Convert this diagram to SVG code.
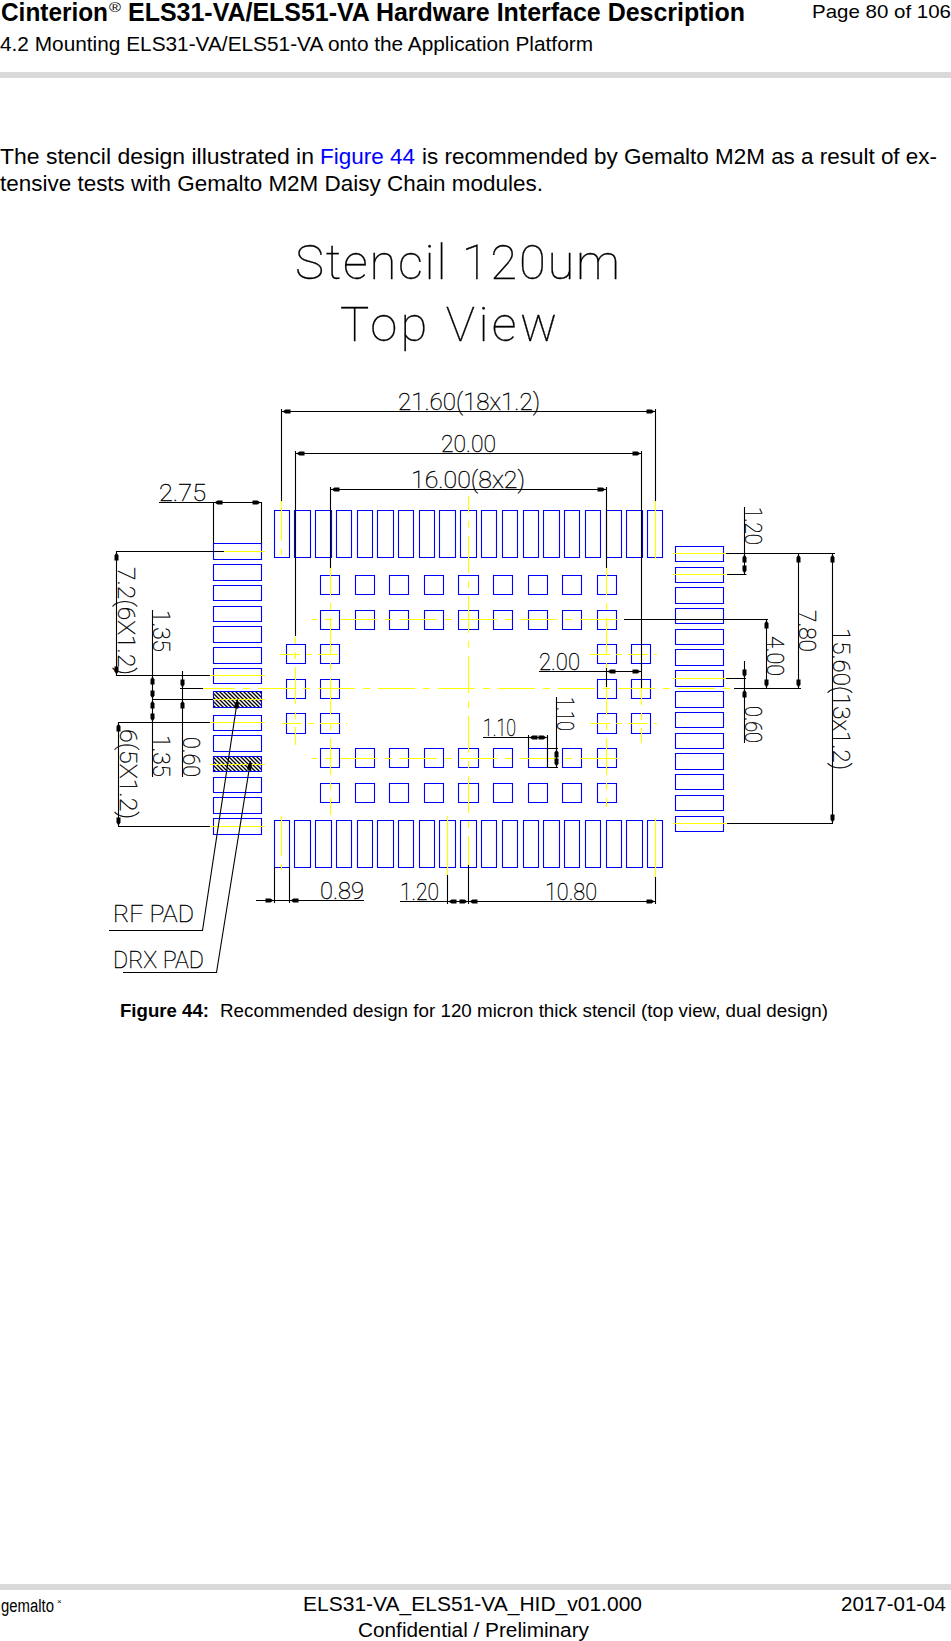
<svg xmlns="http://www.w3.org/2000/svg" width="951" height="1641" viewBox="0 0 951 1641">
<style>
text{font-family:"Liberation Sans",Arial,sans-serif;fill:#000}
.cad{font-family:"Roboto","Inter",sans-serif;font-weight:100;font-size:23.5px;stroke:#000;stroke-width:.35}
.big{font-family:"Roboto","Inter",sans-serif;font-weight:100;font-size:49px;stroke:#000;stroke-width:.3}
.pad{fill:none;stroke:#0000ff;stroke-width:1.1}
.dim{fill:none;stroke:#000;stroke-width:1.1}
.yl{fill:none;stroke:#ffff00;stroke-width:1.1}
.cl{stroke-dasharray:37 8 7 8}
.bar{fill:#d9d9d9}
</style>
<defs>
<pattern id="hatch" width="4" height="4" patternUnits="userSpaceOnUse"><rect width="4" height="4" fill="#fff"/><path d="M-1 -1L5 5M-1 3L1 5M3 -1L5 1" stroke="#000" stroke-width="1.3"/></pattern>
<path id="ah" d="M1 0L4 -2H9V2H4Z" fill="#000"/>
</defs>
<g id="page-header">
<text x="1" y="21" font-size="25.5" font-weight="700" textLength="107" lengthAdjust="spacingAndGlyphs">Cinterion</text>
<text x="109" y="12" font-size="13" textLength="12" lengthAdjust="spacingAndGlyphs">®</text>
<text x="128" y="21" font-size="25.5" font-weight="700" textLength="617" lengthAdjust="spacingAndGlyphs">ELS31-VA/ELS51-VA Hardware Interface Description</text>
<text x="0" y="51" font-size="20.5" textLength="593" lengthAdjust="spacingAndGlyphs">4.2 Mounting ELS31-VA/ELS51-VA onto the Application Platform</text>
<text x="812" y="18" font-size="19" textLength="139" lengthAdjust="spacingAndGlyphs">Page 80 of 106</text>
<rect class="bar" x="0" y="72" width="951" height="6"/>
</g>
<g id="body-text">
<text x="0" y="164" font-size="22.5" textLength="314" lengthAdjust="spacingAndGlyphs">The stencil design illustrated in</text>
<text x="320" y="164" font-size="22.5" fill="#0000ff" style="fill:#0000ff" textLength="95" lengthAdjust="spacingAndGlyphs">Figure 44</text>
<text x="422" y="164" font-size="22.5" textLength="515" lengthAdjust="spacingAndGlyphs">is recommended by Gemalto M2M as a result of ex-</text>
<text x="0" y="191" font-size="22.5" textLength="543" lengthAdjust="spacingAndGlyphs">tensive tests with Gemalto M2M Daisy Chain modules.</text>
</g>
<g id="title">
<text class="big" x="295" y="279" textLength="325">Stencil 120um</text>
<text class="big" x="340" y="341" textLength="217">Top View</text>
</g>
<g id="hatched"><rect x="213.5" y="691.5" width="48" height="16" fill="url(#hatch)"/><rect x="213.5" y="756.5" width="48" height="15" fill="url(#hatch)"/></g>
<g id="pads-top"><path class="pad" d="M274.5 510.5h15v47h-15zM294.5 510.5h16v47h-16zM315.5 510.5h16v47h-16zM336.5 510.5h15v47h-15zM357.5 510.5h15v47h-15zM377.5 510.5h16v47h-16zM398.5 510.5h15v47h-15zM419.5 510.5h15v47h-15zM439.5 510.5h16v47h-16zM460.5 510.5h16v47h-16zM481.5 510.5h15v47h-15zM502.5 510.5h15v47h-15zM523.5 510.5h15v47h-15zM543.5 510.5h16v47h-16zM564.5 510.5h15v47h-15zM585.5 510.5h15v47h-15zM606.5 510.5h15v47h-15zM626.5 510.5h16v47h-16zM647.5 510.5h15v47h-15z"/></g>
<g id="pads-bottom"><path class="pad" d="M274.5 820.5h15v47h-15zM294.5 820.5h16v47h-16zM315.5 820.5h16v47h-16zM336.5 820.5h15v47h-15zM357.5 820.5h15v47h-15zM377.5 820.5h16v47h-16zM398.5 820.5h15v47h-15zM419.5 820.5h15v47h-15zM439.5 820.5h16v47h-16zM460.5 820.5h16v47h-16zM481.5 820.5h15v47h-15zM502.5 820.5h15v47h-15zM523.5 820.5h15v47h-15zM543.5 820.5h16v47h-16zM564.5 820.5h15v47h-15zM585.5 820.5h15v47h-15zM606.5 820.5h15v47h-15zM626.5 820.5h16v47h-16zM647.5 820.5h15v47h-15z"/></g>
<g id="pads-left"><path class="pad" d="M213.5 543.5h48v16h-48zM213.5 564.5h48v16h-48zM213.5 585.5h48v15h-48zM213.5 606.5h48v15h-48zM213.5 626.5h48v16h-48zM213.5 647.5h48v16h-48zM213.5 668.5h48v15h-48zM213.5 691.5h48v16h-48zM213.5 715.5h48v15h-48zM213.5 735.5h48v16h-48zM213.5 756.5h48v15h-48zM213.5 777.5h48v15h-48zM213.5 797.5h48v16h-48zM213.5 818.5h48v16h-48z"/></g>
<g id="pads-right"><path class="pad" d="M675.5 546.5h48v15h-48zM675.5 567.5h48v15h-48zM675.5 587.5h48v16h-48zM675.5 608.5h48v15h-48zM675.5 629.5h48v15h-48zM675.5 649.5h48v16h-48zM675.5 670.5h48v16h-48zM675.5 691.5h48v16h-48zM675.5 712.5h48v15h-48zM675.5 733.5h48v15h-48zM675.5 753.5h48v16h-48zM675.5 774.5h48v15h-48zM675.5 795.5h48v15h-48zM675.5 816.5h48v15h-48z"/></g>
<g id="pads-centre"><path class="pad" d="M320.5 575.5h19v19h-19zM355.5 575.5h19v19h-19zM389.5 575.5h19v19h-19zM424.5 575.5h19v19h-19zM458.5 575.5h20v19h-20zM493.5 575.5h19v19h-19zM528.5 575.5h19v19h-19zM562.5 575.5h19v19h-19zM597.5 575.5h19v19h-19zM320.5 610.5h19v19h-19zM355.5 610.5h19v19h-19zM389.5 610.5h19v19h-19zM424.5 610.5h19v19h-19zM458.5 610.5h20v19h-20zM493.5 610.5h19v19h-19zM528.5 610.5h19v19h-19zM562.5 610.5h19v19h-19zM597.5 610.5h19v19h-19zM320.5 748.5h19v19h-19zM355.5 748.5h19v19h-19zM389.5 748.5h19v19h-19zM424.5 748.5h19v19h-19zM458.5 748.5h20v19h-20zM493.5 748.5h19v19h-19zM528.5 748.5h19v19h-19zM562.5 748.5h19v19h-19zM597.5 748.5h19v19h-19zM320.5 783.5h19v19h-19zM355.5 783.5h19v19h-19zM389.5 783.5h19v19h-19zM424.5 783.5h19v19h-19zM458.5 783.5h20v19h-20zM493.5 783.5h19v19h-19zM528.5 783.5h19v19h-19zM562.5 783.5h19v19h-19zM597.5 783.5h19v19h-19zM286.5 644.5h19v19h-19zM320.5 644.5h19v19h-19zM597.5 644.5h19v19h-19zM631.5 644.5h19v19h-19zM286.5 679.5h19v19h-19zM320.5 679.5h19v19h-19zM597.5 679.5h19v19h-19zM631.5 679.5h19v19h-19zM286.5 713.5h19v20h-19zM320.5 713.5h19v20h-19zM597.5 713.5h19v20h-19zM631.5 713.5h19v20h-19z"/></g>
<g id="centre-lines">
<path class="yl cl" stroke-dashoffset="5" d="M203 688.5H734"/>
<path class="yl cl" stroke-dashoffset="32" d="M312 619.5H624M312 758.5H624"/>
<path class="yl cl" stroke-dashoffset="20" d="M468.5 496V865"/>
<path class="yl cl" stroke-dashoffset="10" d="M330.5 568V815M606.5 568V807"/>
<path class="yl cl" stroke-dashoffset="30" d="M295.5 637V745M641.5 638V743"/>
<path class="yl" stroke-dasharray="20 6 6 6" d="M280 654.5H344M590 654.5H657M282 723.5H347M590 723.5H657"/>
<path class="yl" stroke-dasharray="40 8 6 8" d="M281.5 501V562M281.5 816V877"/>
<path class="yl" d="M655.5 501V559M655.5 818V877M447.5 816V875"/>
<path class="yl" d="M224 551.5H265M210 675.5H265M213 699.5H265M210 722.5H265M210 764.5H265M210 826.5H265M673 553.5H726M673 574.5H726M673 678.5H726M673 823.5H727"/>
</g>
<g id="connectors">
<path class="dim" d="M281.5 409V501M655.5 409V501M281.5 411.5H655.5"/>
<path class="dim" d="M295.5 451V636M641.5 451V638M295.5 453.5H641.5"/>
<path class="dim" d="M330.5 487V568M606.5 487V568M330.5 489.5H606.5"/>
<path class="dim" d="M159 502.5H261.5M213.5 502V543M261.5 502V543"/>
<path class="dim" d="M116.5 551.5H224M116.5 675.5H210M116.5 551V676"/>
<path class="dim" d="M152.5 610V777M152.5 699.5H213M118.5 722.5H210M118.5 722V827M118.5 826.5H210"/>
<path class="dim" d="M182.5 671V777M180 688.5H203"/>
<path class="dim" d="M237.5 699.5L202.5 930.5H109M250.5 761L216.5 972.5H123"/>
<path class="dim" d="M256 900.5H364M274.5 867V903M289.5 867V903"/>
<path class="dim" d="M400 901.5H655.5M447.5 875V904M468.5 865V904M655.5 877V904"/>
<path class="dim" d="M726 553.5H835M727 574.5H746.5M744.5 507V574"/>
<path class="dim" d="M798.5 553V689M832.5 553V824M727 823.5H833"/>
<path class="dim" d="M624 619.5H768M766.5 619V689M734 688.5H801"/>
<path class="dim" d="M744.5 661V743M726 678.5H746"/>
<path class="dim" d="M539 671.5H641.5M606.5 668V687M641.5 638V688"/>
<path class="dim" d="M483 737.5H547.5M528.5 735V748M547.5 735V767M556.5 697V768M547.5 748.5H558M547.5 767.5H558"/>
<use href="#ah" transform="translate(281.5 411.5)"/><use href="#ah" transform="translate(655.5 411.5) rotate(180)"/>
<use href="#ah" transform="translate(295.5 453.5)"/><use href="#ah" transform="translate(641.5 453.5) rotate(180)"/>
<use href="#ah" transform="translate(330.5 489.5)"/><use href="#ah" transform="translate(606.5 489.5) rotate(180)"/>
<use href="#ah" transform="translate(213.5 502.5)"/><use href="#ah" transform="translate(261.5 502.5) rotate(180)"/>
<use href="#ah" transform="translate(116.5 551.5) rotate(90)"/><use href="#ah" transform="translate(116.5 675.5) rotate(-90)"/>
<use href="#ah" transform="translate(152.5 675.5) rotate(90)"/><use href="#ah" transform="translate(152.5 699.5) rotate(-90)"/>
<use href="#ah" transform="translate(152.5 699.5) rotate(90)"/><use href="#ah" transform="translate(152.5 722.5) rotate(-90)"/>
<use href="#ah" transform="translate(182.5 688.5) rotate(-90)"/><use href="#ah" transform="translate(182.5 699.5) rotate(90)"/>
<use href="#ah" transform="translate(237.5 699.5) rotate(98.6)"/><use href="#ah" transform="translate(250.5 761) rotate(99)"/>
<use href="#ah" transform="translate(118.5 722.5) rotate(90)"/><use href="#ah" transform="translate(118.5 826.5) rotate(-90)"/>
<use href="#ah" transform="translate(274.5 900.5) rotate(180)"/><use href="#ah" transform="translate(289.5 900.5)"/>
<use href="#ah" transform="translate(447.5 901.5)"/><use href="#ah" transform="translate(468.5 901.5) rotate(180)"/><use href="#ah" transform="translate(468.5 901.5)"/><use href="#ah" transform="translate(655.5 901.5) rotate(180)"/>
<use href="#ah" transform="translate(606.5 671.5)"/><use href="#ah" transform="translate(641.5 671.5) rotate(180)"/>
<use href="#ah" transform="translate(528.5 737.5)"/><use href="#ah" transform="translate(547.5 737.5) rotate(180)"/>
<use href="#ah" transform="translate(556.5 748.5) rotate(90)"/><use href="#ah" transform="translate(556.5 767.5) rotate(-90)"/>
<use href="#ah" transform="translate(744.5 553.5) rotate(90)"/><use href="#ah" transform="translate(744.5 574.5) rotate(-90)"/>
<use href="#ah" transform="translate(798.5 553.5) rotate(90)"/><use href="#ah" transform="translate(798.5 688.5) rotate(-90)"/>
<use href="#ah" transform="translate(832.5 553.5) rotate(90)"/><use href="#ah" transform="translate(832.5 823.5) rotate(-90)"/>
<use href="#ah" transform="translate(766.5 619.5) rotate(90)"/><use href="#ah" transform="translate(766.5 688.5) rotate(-90)"/>
<use href="#ah" transform="translate(744.5 678.5) rotate(-90)"/><use href="#ah" transform="translate(744.5 688.5) rotate(90)"/>
</g>
<g id="dimension-labels">
<text class="cad" x="398" y="410" textLength="142" lengthAdjust="spacingAndGlyphs">21.60(18x1.2)</text>
<text class="cad" x="441" y="452" textLength="55" lengthAdjust="spacingAndGlyphs">20.00</text>
<text class="cad" x="411" y="488" textLength="114" lengthAdjust="spacingAndGlyphs">16.00(8x2)</text>
<text class="cad" x="159" y="501" textLength="47" lengthAdjust="spacingAndGlyphs">2.75</text>
<text class="cad" x="320" y="899" textLength="44" lengthAdjust="spacingAndGlyphs">0.89</text>
<text class="cad" x="400" y="900" textLength="39" lengthAdjust="spacingAndGlyphs">1.20</text>
<text class="cad" x="545" y="900" textLength="52" lengthAdjust="spacingAndGlyphs">10.80</text>
<text class="cad" x="539" y="670" textLength="41" lengthAdjust="spacingAndGlyphs">2.00</text>
<text class="cad" x="483" y="736" textLength="33" lengthAdjust="spacingAndGlyphs">1.10</text>
<text class="cad" x="113" y="922" textLength="81" lengthAdjust="spacingAndGlyphs">RF PAD</text>
<text class="cad" x="113" y="968" textLength="91" lengthAdjust="spacingAndGlyphs">DRX PAD</text>
<text class="cad" transform="translate(118 567) rotate(90)" textLength="108" lengthAdjust="spacingAndGlyphs">7.2(6X1.2)</text>
<text class="cad" transform="translate(153 610) rotate(90)" textLength="42" lengthAdjust="spacingAndGlyphs">1.35</text>
<text class="cad" transform="translate(153 735) rotate(90)" textLength="42" lengthAdjust="spacingAndGlyphs">1.35</text>
<text class="cad" transform="translate(183 737) rotate(90)" textLength="40" lengthAdjust="spacingAndGlyphs">0.60</text>
<text class="cad" transform="translate(120 729) rotate(90)" textLength="90" lengthAdjust="spacingAndGlyphs">6(5X1.2)</text>
<text class="cad" transform="translate(745 507) rotate(90)" textLength="38" lengthAdjust="spacingAndGlyphs">1.20</text>
<text class="cad" transform="translate(799 610) rotate(90)" textLength="42" lengthAdjust="spacingAndGlyphs">7.80</text>
<text class="cad" transform="translate(767 636) rotate(90)" textLength="40" lengthAdjust="spacingAndGlyphs">4.00</text>
<text class="cad" transform="translate(745 706) rotate(90)" textLength="37" lengthAdjust="spacingAndGlyphs">0.60</text>
<text class="cad" transform="translate(557 697) rotate(90)" textLength="34" lengthAdjust="spacingAndGlyphs">1.10</text>
<text class="cad" transform="translate(833 628) rotate(90)" textLength="142" lengthAdjust="spacingAndGlyphs">15.60(13x1.2)</text>
</g>
<g id="caption">
<text x="120" y="1017" font-size="18" font-weight="700" textLength="89" lengthAdjust="spacingAndGlyphs">Figure 44:</text>
<text x="220" y="1017" font-size="18" textLength="608" lengthAdjust="spacingAndGlyphs">Recommended design for 120 micron thick stencil (top view, dual design)</text>
</g>
<g id="page-footer">
<rect class="bar" x="0" y="1584" width="951" height="6"/>
<text x="1" y="1612" font-size="18" textLength="53" lengthAdjust="spacingAndGlyphs">gemalto</text>
<text x="57" y="1604" font-size="8">×</text>
<text x="303" y="1611" font-size="20" textLength="339" lengthAdjust="spacingAndGlyphs">ELS31-VA_ELS51-VA_HID_v01.000</text>
<text x="358" y="1637" font-size="20" textLength="231" lengthAdjust="spacingAndGlyphs">Confidential / Preliminary</text>
<text x="841" y="1611" font-size="20" textLength="105" lengthAdjust="spacingAndGlyphs">2017-01-04</text>
</g>
</svg>
